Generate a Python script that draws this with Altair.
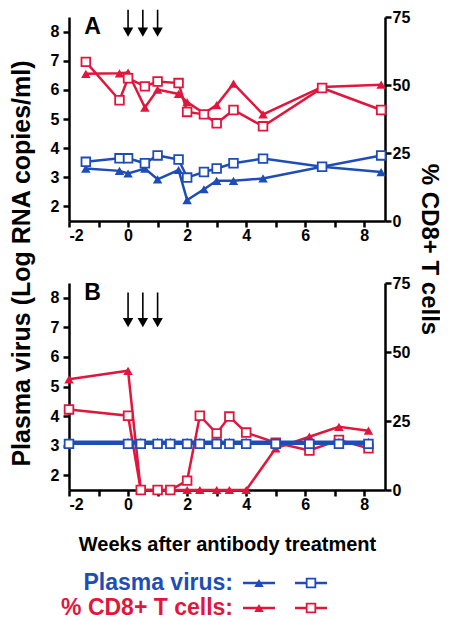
import altair as alt
import pandas as pd

RED = "#E1163D"
BLUE = "#1E4DB7"
FONT = "Liberation Sans"

# ---------------- Panel A data ----------------
a_weeks = [-1.43, -0.29, 0.0, 0.57, 1.0, 1.71, 2.0, 2.57, 3.0, 3.57, 4.57, 6.57, 8.57]
a_virus_tri = [3.30, 3.22, 3.13, 3.30, 2.93, 3.25, 2.22, 2.59, 2.88, 2.88, 2.96, 3.36, 3.18]
a_virus_sq = [3.53, 3.65, 3.65, 3.48, 3.75, 3.61, 2.99, 3.18, 3.30, 3.48, 3.64, 3.36, 3.75]
a_cd8_tri = [54.1, 54.3, 54.6, 41.7, 48.3, 46.7, 43.7, 39.6, 42.6, 50.5, 39.2, 49.3, 50.1]
a_cd8_sq = [58.5, 44.4, 52.5, 49.5, 51.3, 50.7, 40.1, 39.2, 35.9, 40.8, 34.8, 48.9, 40.8]

# ---------------- Panel B data ----------------
b_weeks = [-2.0, 0.0, 0.43, 1.0, 1.43, 2.0, 2.43, 3.0, 3.43, 4.0, 5.0, 6.14, 7.14, 8.14]
b_virus_tri = [3.13, 3.13, 3.13, 3.13, 3.13, 3.13, 3.13, 3.13, 3.13, 3.13, 3.13, 3.13, 3.13, 3.13]
b_virus_sq = [3.06, 3.06, 3.06, 3.06, 3.06, 3.06, 3.06, 3.06, 3.06, 3.06, 3.06, 3.06, 3.06, 3.06]
b_cd8_tri = [40.1, 43.2, 0.0, 0.0, 0.0, 0.0, 0.0, 0.0, 0.0, 0.0, 15.1, 19.3, 22.9, 21.5]
b_cd8_sq = [29.2, 26.9, 0.0, 0.0, 0.0, 3.4, 26.9, 20.5, 26.6, 20.8, 17.1, 14.3, 18.1, 15.1]

# antibody treatment arrows (weeks) and their extent in log-copies units
arrow_weeks = [0.0, 0.5, 1.0]
a_arrow = (8.75, 7.98)
b_arrow = (8.18, 7.16)

x_ticks = [-2, -1, 0, 1, 2, 3, 4, 5, 6, 7, 8]
virus_ticks = [2, 3, 4, 5, 6, 7, 8]
cd8_ticks = [0, 25, 50, 75]

legend_rows = ["Plasma virus:", "% CD8+ T cells:"]
legend_colors = [BLUE, RED]

W, HA, HB = 316, 204, 207

xscale = alt.Scale(domain=[-2, 8.7], nice=False, zero=False)
vscale = alt.Scale(domain=[1.5, 8.5], nice=False, zero=False)
cscale = alt.Scale(domain=[0, 75], nice=False, zero=False)


def x_axis(title):
    kw = dict(values=x_ticks,
              labelExpr="datum.value % 2 == 0 ? '' + datum.value : ''",
              labelOverlap=False, labelPadding=0, labelFontSize=16)
    if title:
        kw.update(title=title, titleFontSize=20, titleY=54, titleBaseline="middle")
    else:
        kw.update(title=None)
    return alt.Axis(**kw)


def left_axis(title):
    kw = dict(orient="left", values=virus_ticks, labelPadding=4, labelFontSize=16)
    if title:
        kw.update(title=title, titleFontSize=25, titleAngle=270, titleX=-48, titleY=246,
                  titleAlign="center", titleBaseline="middle")
    else:
        kw.update(title=None)
    return alt.Axis(**kw)


def right_axis(title):
    kw = dict(orient="right", values=cd8_ticks, labelPadding=1, labelFontSize=16)
    if title:
        kw.update(title=title, titleFontSize=24, titleAngle=90, titleX=43, titleY=232,
                  titleAlign="center", titleBaseline="middle")
    else:
        kw.update(title=None)
    return alt.Axis(**kw)


def series(weeks, vals, color, shape, scale, yaxis, xaxis):
    df = pd.DataFrame({"week": weeks, "val": vals})
    base = alt.Chart(df).encode(
        x=alt.X("week:Q", scale=xscale, axis=xaxis),
        y=alt.Y("val:Q", scale=scale, axis=yaxis),
    )
    line = base.mark_line(color=color, strokeWidth=2.5)
    if shape == "square":
        pts = base.mark_point(shape="square", filled=True, fill="white", stroke=color,
                              strokeWidth=1.8, size=75, opacity=1)
    else:
        pts = base.mark_point(shape="triangle-up", filled=True, color=color, size=90, opacity=1)
    return [line, pts]


def panel(weeks, vt, vs, ct, cs, letter, arrow, top):
    xa = x_axis(None if top else "Weeks after antibody treatment")
    la = left_axis("Plasma virus (Log RNA copies/ml)" if top else None)
    ra = right_axis("% CD8+ T cells" if top else None)

    red = alt.layer(*series(weeks, ct, RED, "triangle", cscale, ra, xa),
                    *series(weeks, cs, RED, "square", cscale, ra, xa))

    adf = pd.DataFrame({"week": arrow_weeks,
                        "top": [arrow[0]] * len(arrow_weeks),
                        "head": [arrow[1]] * len(arrow_weeks)})
    rules = alt.Chart(adf).mark_rule(color="black", strokeWidth=1.6).encode(
        x=alt.X("week:Q", scale=xscale, axis=xa),
        y=alt.Y("top:Q", scale=vscale, axis=la),
        y2="head:Q",
    )
    heads = alt.Chart(adf).mark_point(shape="triangle-down", filled=True, color="black",
                                      size=110, opacity=1).encode(
        x=alt.X("week:Q", scale=xscale, axis=xa),
        y=alt.Y("head:Q", scale=vscale, axis=la),
    )
    lab = alt.Chart(pd.DataFrame({"week": [-1.2], "val": [8.15], "t": [letter]})).mark_text(
        font=FONT, fontSize=23, fontWeight="bold", color="black", align="center",
        baseline="middle").encode(
        x=alt.X("week:Q", scale=xscale, axis=xa),
        y=alt.Y("val:Q", scale=vscale, axis=la),
        text="t:N",
    )
    blue = alt.layer(*series(weeks, vt, BLUE, "triangle", vscale, la, xa),
                     *series(weeks, vs, BLUE, "square", vscale, la, xa),
                     rules, heads, lab)

    return [red, blue]


def legend_layers():
    out = []
    one = pd.DataFrame({"k": [0]})
    ys = [300, 325]
    for name, color, yy in zip(legend_rows, legend_colors, ys):
        out.append(alt.Chart(one).mark_text(font=FONT, fontSize=23, fontWeight="bold",
                                            color=color, align="right", baseline="middle").encode(
            x=alt.value(164), y=alt.value(yy), text=alt.value(name)))
        for x0, shape in [(174, "triangle"), (226, "square")]:
            out.append(alt.Chart(one).mark_rule(color=color, strokeWidth=2.5).encode(
                x=alt.value(x0), x2=alt.value(x0 + 32), y=alt.value(yy)))
            if shape == "square":
                out.append(alt.Chart(one).mark_point(shape="square", filled=True, fill="white",
                                                     stroke=color, strokeWidth=1.8, size=75,
                                                     opacity=1).encode(
                    x=alt.value(x0 + 16), y=alt.value(yy)))
            else:
                out.append(alt.Chart(one).mark_point(shape="triangle-up", filled=True, color=color,
                                                     size=90, opacity=1).encode(
                    x=alt.value(x0 + 16), y=alt.value(yy)))
    return out


pa = alt.layer(*panel(a_weeks, a_virus_tri, a_virus_sq, a_cd8_tri, a_cd8_sq, "A", a_arrow, True)
               ).resolve_scale(y="independent").properties(width=W, height=HA)
pb = alt.layer(*panel(b_weeks, b_virus_tri, b_virus_sq, b_cd8_tri, b_cd8_sq, "B", b_arrow, False),
               *legend_layers()).resolve_scale(y="independent").properties(width=W, height=HB)

chart = alt.vconcat(pa, pb, spacing=62, bounds="flush").properties(padding=0).configure_axis(
    domainColor="black", domainWidth=2.5, tickColor="black", tickWidth=2.5, tickSize=6,
    labelFont=FONT, labelFontWeight="bold", labelColor="black",
    titleFont=FONT, titleFontWeight="bold", titleColor="black", grid=False,
).configure_view(stroke=None)

chart.save("out.html", embed_options={"renderer": "svg", "actions": False})
